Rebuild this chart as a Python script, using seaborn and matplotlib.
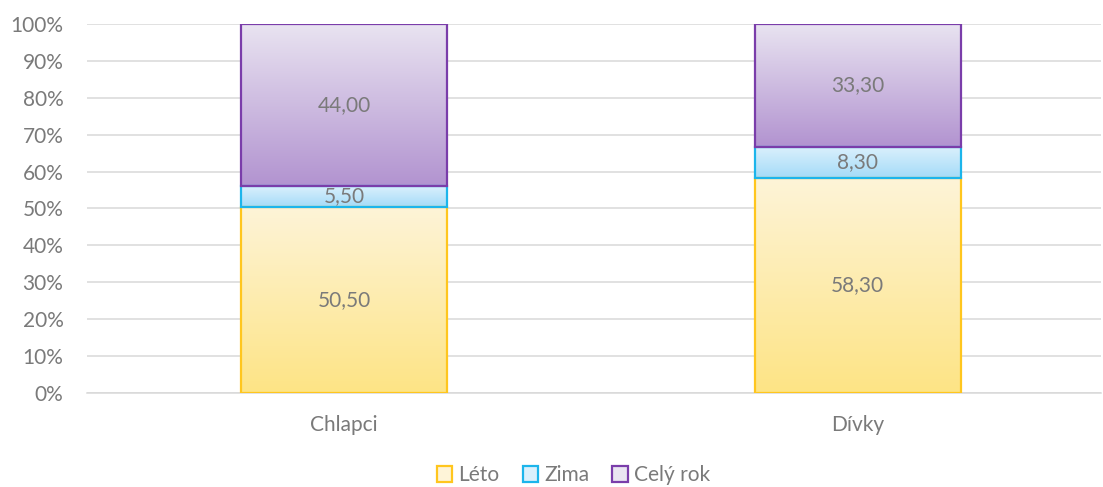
import numpy as np
import pandas as pd
import matplotlib
matplotlib.use("Agg")
import matplotlib.pyplot as plt
from matplotlib.colors import LinearSegmentedColormap
from matplotlib.patches import Patch
from matplotlib.ticker import PercentFormatter
import seaborn as sns

categories = ["Chlapci", "Dívky"]
series = ["Léto", "Zima", "Celý rok"]
leto = [50.5, 58.3]
zima = [5.5, 8.3]
cely_rok = [44.0, 33.3]

# gradient (top, bottom) and edge colour per series
styles = {
    "Léto": ("#FEF4D8", "#FDE485", "#FFC61E"),
    "Zima": ("#DAF0FC", "#A4DBF8", "#1CB5EB"),
    "Celý rok": ("#E9E4F1", "#B293D0", "#7A3DAA"),
}

sns.set_theme(style="white")
plt.rcParams["font.family"] = ["Lato", "DejaVu Sans"]
text_col = "#7A7A7A"
fs = 15

values = pd.DataFrame({"Léto": leto, "Zima": zima, "Celý rok": cely_rok}, index=categories)
share = values.div(values.sum(axis=1), axis=0) * 100
bottoms = share.cumsum(axis=1) - share

fig = plt.figure(figsize=(11.03, 4.87), dpi=100)
ax = fig.add_axes([0.079, 0.193, 0.919, 0.758])

for name in series:
    df = pd.DataFrame({"kat": categories, "val": share[name].values})
    top, bot, edge = styles[name]
    n_before = len(ax.patches)
    sns.barplot(data=df, x="kat", y="val", order=categories, ax=ax, width=0.4,
                color=edge, saturation=1, bottom=bottoms[name].values,
                edgecolor=edge, linewidth=1.6, zorder=3)
    cmap = LinearSegmentedColormap.from_list(name, [bot, top])
    for i, p in enumerate(ax.patches[n_before:]):
        p.set_facecolor("none")
        x0, y0 = p.get_x(), p.get_y()
        w, h = p.get_width(), p.get_height()
        grad = np.linspace(0, 1, 256).reshape(-1, 1)
        im = ax.imshow(grad, cmap=cmap, aspect="auto", origin="lower",
                       extent=[x0, x0 + w, y0, y0 + h], zorder=2)
        im.set_clip_path(p)
        raw = values[name].iloc[i]
        ax.text(x0 + w / 2, y0 + h / 2, f"{raw:.2f}".replace(".", ","),
                ha="center", va="center", fontsize=fs, color=text_col, zorder=4)

ax.set_xlim(-0.5, 1.473)
ax.set_ylim(0, 100)
ax.set_yticks(np.arange(0, 101, 10))
ax.yaxis.set_major_formatter(PercentFormatter(decimals=0))
ax.grid(axis="y", color="#D9D9D9", linewidth=1.1, zorder=0)
ax.set_axisbelow(True)
for s in ["left", "right", "top"]:
    ax.spines[s].set_visible(False)
ax.spines["bottom"].set_color("#D9D9D9")
ax.spines["bottom"].set_linewidth(1.1)
ax.tick_params(axis="both", length=0, labelsize=fs, labelcolor=text_col)
ax.tick_params(axis="x", pad=16)
ax.tick_params(axis="y", pad=17)
ax.set_xlabel("")
ax.set_ylabel("")

handles = [Patch(facecolor=styles[n][0], edgecolor=styles[n][2], linewidth=1.6, label=n) for n in series]
fig.legend(handles=handles, loc="lower center", bbox_to_anchor=(0.52, -0.035), ncol=3, frameon=False,
           fontsize=fs, labelcolor=text_col, handlelength=0.75, handleheight=0.75,
           handletextpad=0.3, columnspacing=1.1)

fig.savefig("out.png", dpi=100)
